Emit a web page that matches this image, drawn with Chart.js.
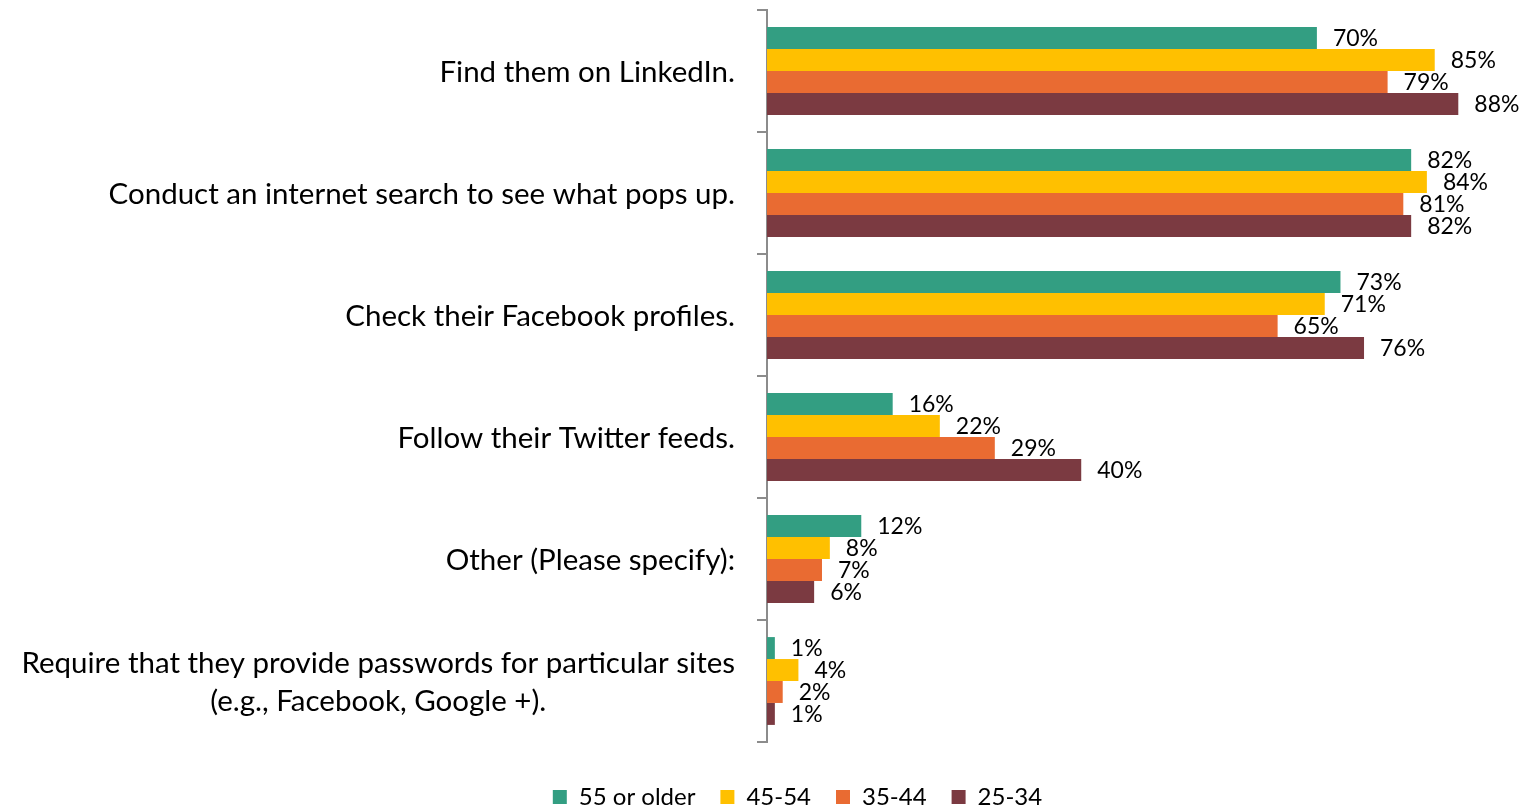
<!DOCTYPE html>
<html>
<head>
<meta charset="utf-8">
<script src="https://cdn.jsdelivr.net/npm/chart.js@4.4.1/dist/chart.umd.min.js"></script>
<style>
  html, body { margin: 0; padding: 0; background: #fff; }
  #wrap { width: 1529px; height: 807px; }
</style>
</head>
<body>
<div id="wrap"><canvas id="chart"></canvas></div>
<script>
// Categories (y axis), multi-line ones as arrays
var categories = [
  ["Find them on LinkedIn."],
  ["Conduct an internet search to see what pops up."],
  ["Check their Facebook profiles."],
  ["Follow their Twitter feeds."],
  ["Other (Please specify):"],
  ["Require that they provide passwords for particular sites", "(e.g., Facebook, Google +)."]
];

// Series values (%)
var age55plus = [70, 82, 73, 16, 12, 1];
var age4554 = [85, 84, 71, 22, 8, 4];
var age3544 = [79, 81, 65, 29, 7, 2];
var age2534 = [88, 82, 76, 40, 6, 1];

var seriesNames = ["55 or older", "45-54", "35-44", "25-34"];
var seriesColors = ["#339e82", "#ffc000", "#e96b32", "#7b3a41"];

var FONT = "Lato, 'Open Sans', sans-serif";

// Draws the value labels at the bar ends
var valueLabels = {
  id: 'valueLabels',
  afterDatasetsDraw: function(chart) {
    var ctx = chart.ctx;
    ctx.save();
    ctx.font = "23px " + FONT;
    ctx.fillStyle = "#000";
    ctx.textAlign = "left";
    ctx.textBaseline = "middle";
    chart.data.datasets.forEach(function(ds, i) {
      var meta = chart.getDatasetMeta(i);
      meta.data.forEach(function(bar, j) {
        ctx.fillText(ds.data[j] + "%", bar.x + 16, bar.y + 1);
      });
    });
    ctx.restore();
  }
};

// Draws the category labels: right aligned block, lines centred inside it
var catLabels = {
  id: 'catLabels',
  afterDraw: function(chart) {
    var ctx = chart.ctx;
    var yScale = chart.scales.y;
    var right = 735;
    var lineH = 38;
    ctx.save();
    ctx.font = "29.5px " + FONT;
    ctx.fillStyle = "#000";
    ctx.textBaseline = "middle";
    ctx.textAlign = "center";
    categories.forEach(function(lines, i) {
      var yc = yScale.getPixelForTick(i) + 1;
      var w = 0;
      lines.forEach(function(l) { w = Math.max(w, ctx.measureText(l).width); });
      var cx = right - w / 2;
      var y0 = yc - (lines.length - 1) * lineH / 2;
      lines.forEach(function(l, k) {
        ctx.fillText(l, cx, y0 + k * lineH);
      });
    });
    ctx.restore();
  }
};

// Legend in the original sits a bit right of centre
var shiftLegend = {
  id: 'shiftLegend',
  afterLayout: function(chart) {
    if (chart.legend) {
      chart.legend.left += 33;
      chart.legend.right += 33;
    }
  }
};

var datasets = [age55plus, age4554, age3544, age2534].map(function(d, i) {
  return {
    label: seriesNames[i],
    data: d,
    backgroundColor: seriesColors[i],
    borderWidth: 0,
    barPercentage: 1.0,
    categoryPercentage: 0.72
  };
});

var chart = new Chart(document.getElementById("chart"), {
  type: 'bar',
  data: {
    labels: categories.map(function(c) { return c.join(" "); }),
    datasets: datasets
  },
  options: {
    indexAxis: 'y',
    responsive: true,
    maintainAspectRatio: false,
    animation: false,
    layout: { padding: { top: 10, left: 0, right: 0, bottom: -12 } },
    scales: {
      x: {
        min: 0,
        max: 97,
        grid: { display: false },
        border: { display: false },
        ticks: { display: false },
        afterFit: function(s) { s.height = 18; }
      },
      y: {
        grid: {
          offset: true,
          drawOnChartArea: false,
          tickLength: 10,
          color: "#8c8c8c",
          lineWidth: 2
        },
        border: { color: "#8c8c8c", width: 2 },
        ticks: { display: false },
        afterFit: function(s) { s.width = 767; }
      }
    },
    plugins: {
      legend: {
        position: 'bottom',
        labels: {
          font: { family: FONT, size: 24 },
          color: "#000",
          boxWidth: 14,
          boxHeight: 14,
          padding: 25
        }
      },
      tooltip: { enabled: false }
    }
  },
  plugins: [valueLabels, catLabels, shiftLegend]
});
</script>
</body>
</html>
